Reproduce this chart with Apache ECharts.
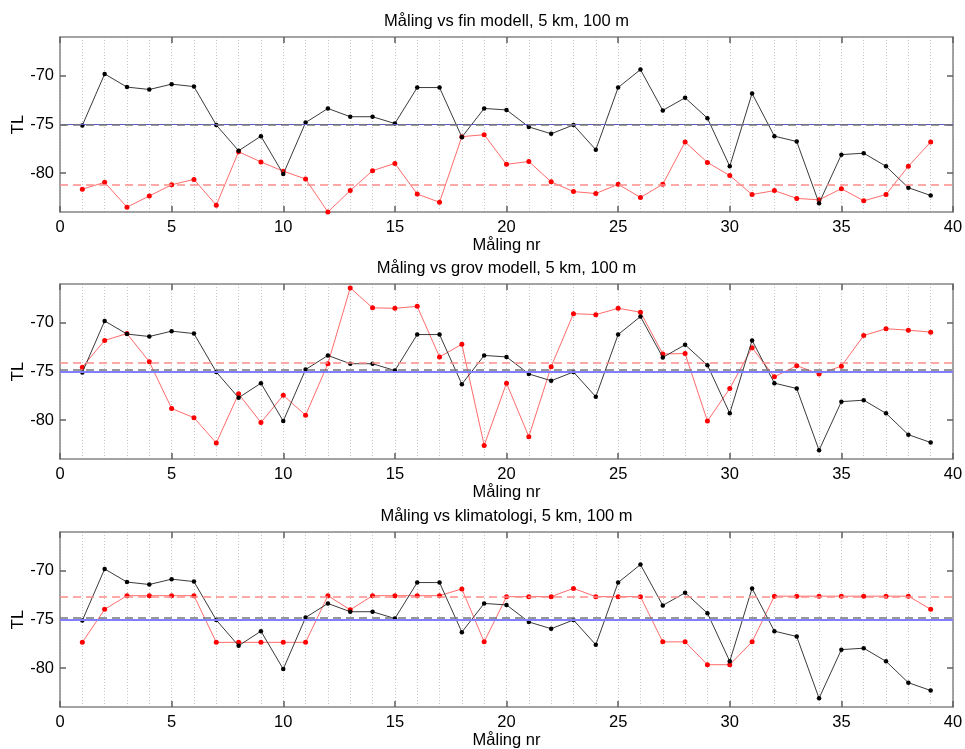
<!DOCTYPE html>
<html>
<head>
<meta charset="utf-8">
<script src="https://cdn.jsdelivr.net/npm/echarts@6/dist/echarts.min.js"></script>
<style>
html,body{margin:0;padding:0;background:#fff;}
#chart{width:965px;height:749px;}
</style>
</head>
<body>
<div id="chart"></div>
<script>
// ---- data ----
const malingNr = [1,2,3,4,5,6,7,8,9,10,11,12,13,14,15,16,17,18,19,20,21,22,23,24,25,26,27,28,29,30,31,32,33,34,35,36,37,38,39];

const maling = [-75.1,-69.8,-71.15,-71.4,-70.85,-71.1,-75.05,-77.7,-76.2,-80.1,-74.8,-73.35,-74.2,-74.2,-74.9,-71.2,-71.2,-76.3,-73.35,-73.5,-75.25,-75.95,-75.05,-77.6,-71.2,-69.35,-73.55,-72.25,-74.35,-79.3,-71.8,-76.2,-76.75,-83.1,-78.1,-77.95,-79.3,-81.5,-82.3];

const finModell = [-81.65,-80.95,-83.5,-82.35,-81.2,-80.65,-83.3,-77.8,-78.85,-79.8,-80.6,-84.0,-81.8,-79.75,-79.0,-82.15,-83.0,-76.25,-76.05,-79.1,-78.8,-80.9,-81.9,-82.1,-81.15,-82.5,-81.15,-76.8,-78.9,-80.25,-82.2,-81.8,-82.6,-82.75,-81.6,-82.85,-82.2,-79.3,-76.8];

const grovModell = [-74.55,-71.8,-71.1,-74.0,-78.8,-79.75,-82.35,-77.3,-80.25,-77.45,-79.5,-74.2,-66.4,-68.45,-68.5,-68.3,-73.5,-72.2,-82.6,-76.2,-81.7,-74.5,-69.05,-69.15,-68.5,-68.9,-73.2,-73.15,-80.1,-76.75,-72.55,-75.55,-74.4,-75.25,-74.45,-71.3,-70.6,-70.75,-70.95];

const klimatologi = [-77.35,-73.95,-72.55,-72.55,-72.55,-72.55,-77.35,-77.35,-77.35,-77.35,-77.35,-72.55,-74.0,-72.55,-72.55,-72.55,-72.55,-71.85,-77.3,-72.65,-72.65,-72.65,-71.8,-72.65,-72.65,-72.65,-77.3,-77.3,-79.65,-79.65,-77.3,-72.6,-72.6,-72.6,-72.6,-72.6,-72.6,-72.6,-73.95];

const titles = ['Måling vs fin modell, 5 km, 100 m','Måling vs grov modell, 5 km, 100 m','Måling vs klimatologi, 5 km, 100 m'];
const modelSeries = [finModell, grovModell, klimatologi];
const malingMean = [-75.0, -74.85, -74.85];   // grey dashed
const modelMean = [-81.15, -74.05, -72.65];   // red dashed
const refLevel = [-75.0, -75.0, -75.0];       // blue solid
const yTicks = [-80, -75, -70];

// ---- layout ----
const FONT = '"Liberation Sans", Arial, Helvetica, sans-serif';
const FS = 16.5;
const gridTops = [37, 284, 532];
const gridH = 175, gridL = 60, gridW = 893;
const frameColor = '#858585';
const tickColor = '#606060';
const gridLineColor = '#c4c4c4';

const chart = echarts.init(document.getElementById('chart'), null, {renderer:'canvas'});

const grids = [], xAxes = [], yAxes = [], series = [], title = [];
gridTops.forEach((top, g) => {
  grids.push({left: gridL, top: top, width: gridW, height: gridH, containLabel: false, outerBoundsMode: 'none'});
  title.push({text: titles[g], left: gridL + gridW/2, top: top - 24, textAlign: 'center', padding: 0,
    textStyle: {fontFamily: FONT, fontSize: FS, fontWeight: 'normal', color: '#000'}});
  // bottom x axis
  xAxes.push({type: 'value', gridIndex: g, min: 0, max: 40, interval: 5, position: 'bottom',
    axisLine: {show: true, onZero: false, lineStyle: {color: frameColor, width: 1.5}},
    axisTick: {show: true, inside: true, length: 6, lineStyle: {color: tickColor, width: 1.5}},
    axisLabel: {margin: 7, color: '#000', fontSize: FS, fontFamily: FONT},
    splitLine: {show: true, lineStyle: {type: [1, 2], color: gridLineColor, width: 1}},
    minorTick: {show: false, splitNumber: 5},
    minorSplitLine: {show: true, lineStyle: {type: [1, 2], color: gridLineColor, width: 1}},
    name: 'Måling nr', nameLocation: 'middle', nameGap: 25, nameMoveOverlap: false,
    nameTextStyle: {fontFamily: FONT, fontSize: FS, color: '#000'}
  });
  // top x axis (frame + ticks)
  xAxes.push({type: 'value', gridIndex: g, min: 0, max: 40, interval: 5, position: 'top',
    axisLine: {show: true, onZero: false, lineStyle: {color: frameColor, width: 1.5}},
    axisTick: {show: true, inside: true, length: 6, lineStyle: {color: tickColor, width: 1.5}},
    axisLabel: {show: false}, splitLine: {show: false}
  });
  // left y axis
  yAxes.push({type: 'value', gridIndex: g, min: -84, max: -66, position: 'left',
    axisLine: {show: true, onZero: false, lineStyle: {color: frameColor, width: 1.5}},
    axisTick: {show: true, inside: true, length: 6, customValues: yTicks, lineStyle: {color: tickColor, width: 1.5}},
    axisLabel: {margin: 6, color: '#000', fontSize: FS, fontFamily: FONT, customValues: yTicks},
    splitLine: {show: false},
    name: 'TL', nameLocation: 'middle', nameGap: 33, nameRotate: 90, nameMoveOverlap: false,
    nameTextStyle: {fontFamily: FONT, fontSize: FS, color: '#000'}
  });
  // right y axis (frame + ticks)
  yAxes.push({type: 'value', gridIndex: g, min: -84, max: -66, position: 'right',
    axisLine: {show: true, onZero: false, lineStyle: {color: frameColor, width: 1.5}},
    axisTick: {show: true, inside: true, length: 6, customValues: yTicks, lineStyle: {color: tickColor, width: 1.5}},
    axisLabel: {show: false}, splitLine: {show: false}
  });

  const blueStyle = g === 0
    ? {color: '#5a5ad0', width: 1, type: 'solid'}
    : {color: '#8080ff', width: 2.2, type: 'solid'};

  series.push({
    type: 'line', xAxisIndex: 2*g, yAxisIndex: 2*g, z: 3,
    data: malingNr.map((x, i) => [x, modelSeries[g][i]]),
    symbol: 'circle', symbolSize: 5, showSymbol: true,
    lineStyle: {color: '#ff6b6b', width: 1},
    itemStyle: {color: '#ff0000'},
    animation: false, silent: true,
    markLine: {silent: true, symbol: 'none', animation: false, label: {show: false},
      data: [{yAxis: modelMean[g], lineStyle: {color: '#ff8c8c', width: 1.6, type: [8, 5]}}]}
  });
  series.push({
    type: 'line', xAxisIndex: 2*g, yAxisIndex: 2*g, z: 4,
    data: malingNr.map((x, i) => [x, maling[i]]),
    symbol: 'circle', symbolSize: 4.5, showSymbol: true,
    lineStyle: {color: '#3a3a3a', width: 1},
    itemStyle: {color: '#000'},
    animation: false, silent: true,
    markLine: {silent: true, symbol: 'none', animation: false, label: {show: false},
      data: [
        {yAxis: refLevel[g], lineStyle: blueStyle},
        {yAxis: malingMean[g], lineStyle: {color: '#777', width: 1.6, type: [8, 5]}}
      ]}
  });
});

chart.setOption({
  backgroundColor: '#fff',
  animation: false,
  title: title,
  grid: grids,
  xAxis: xAxes,
  yAxis: yAxes,
  series: series
});
</script>
</body>
</html>
